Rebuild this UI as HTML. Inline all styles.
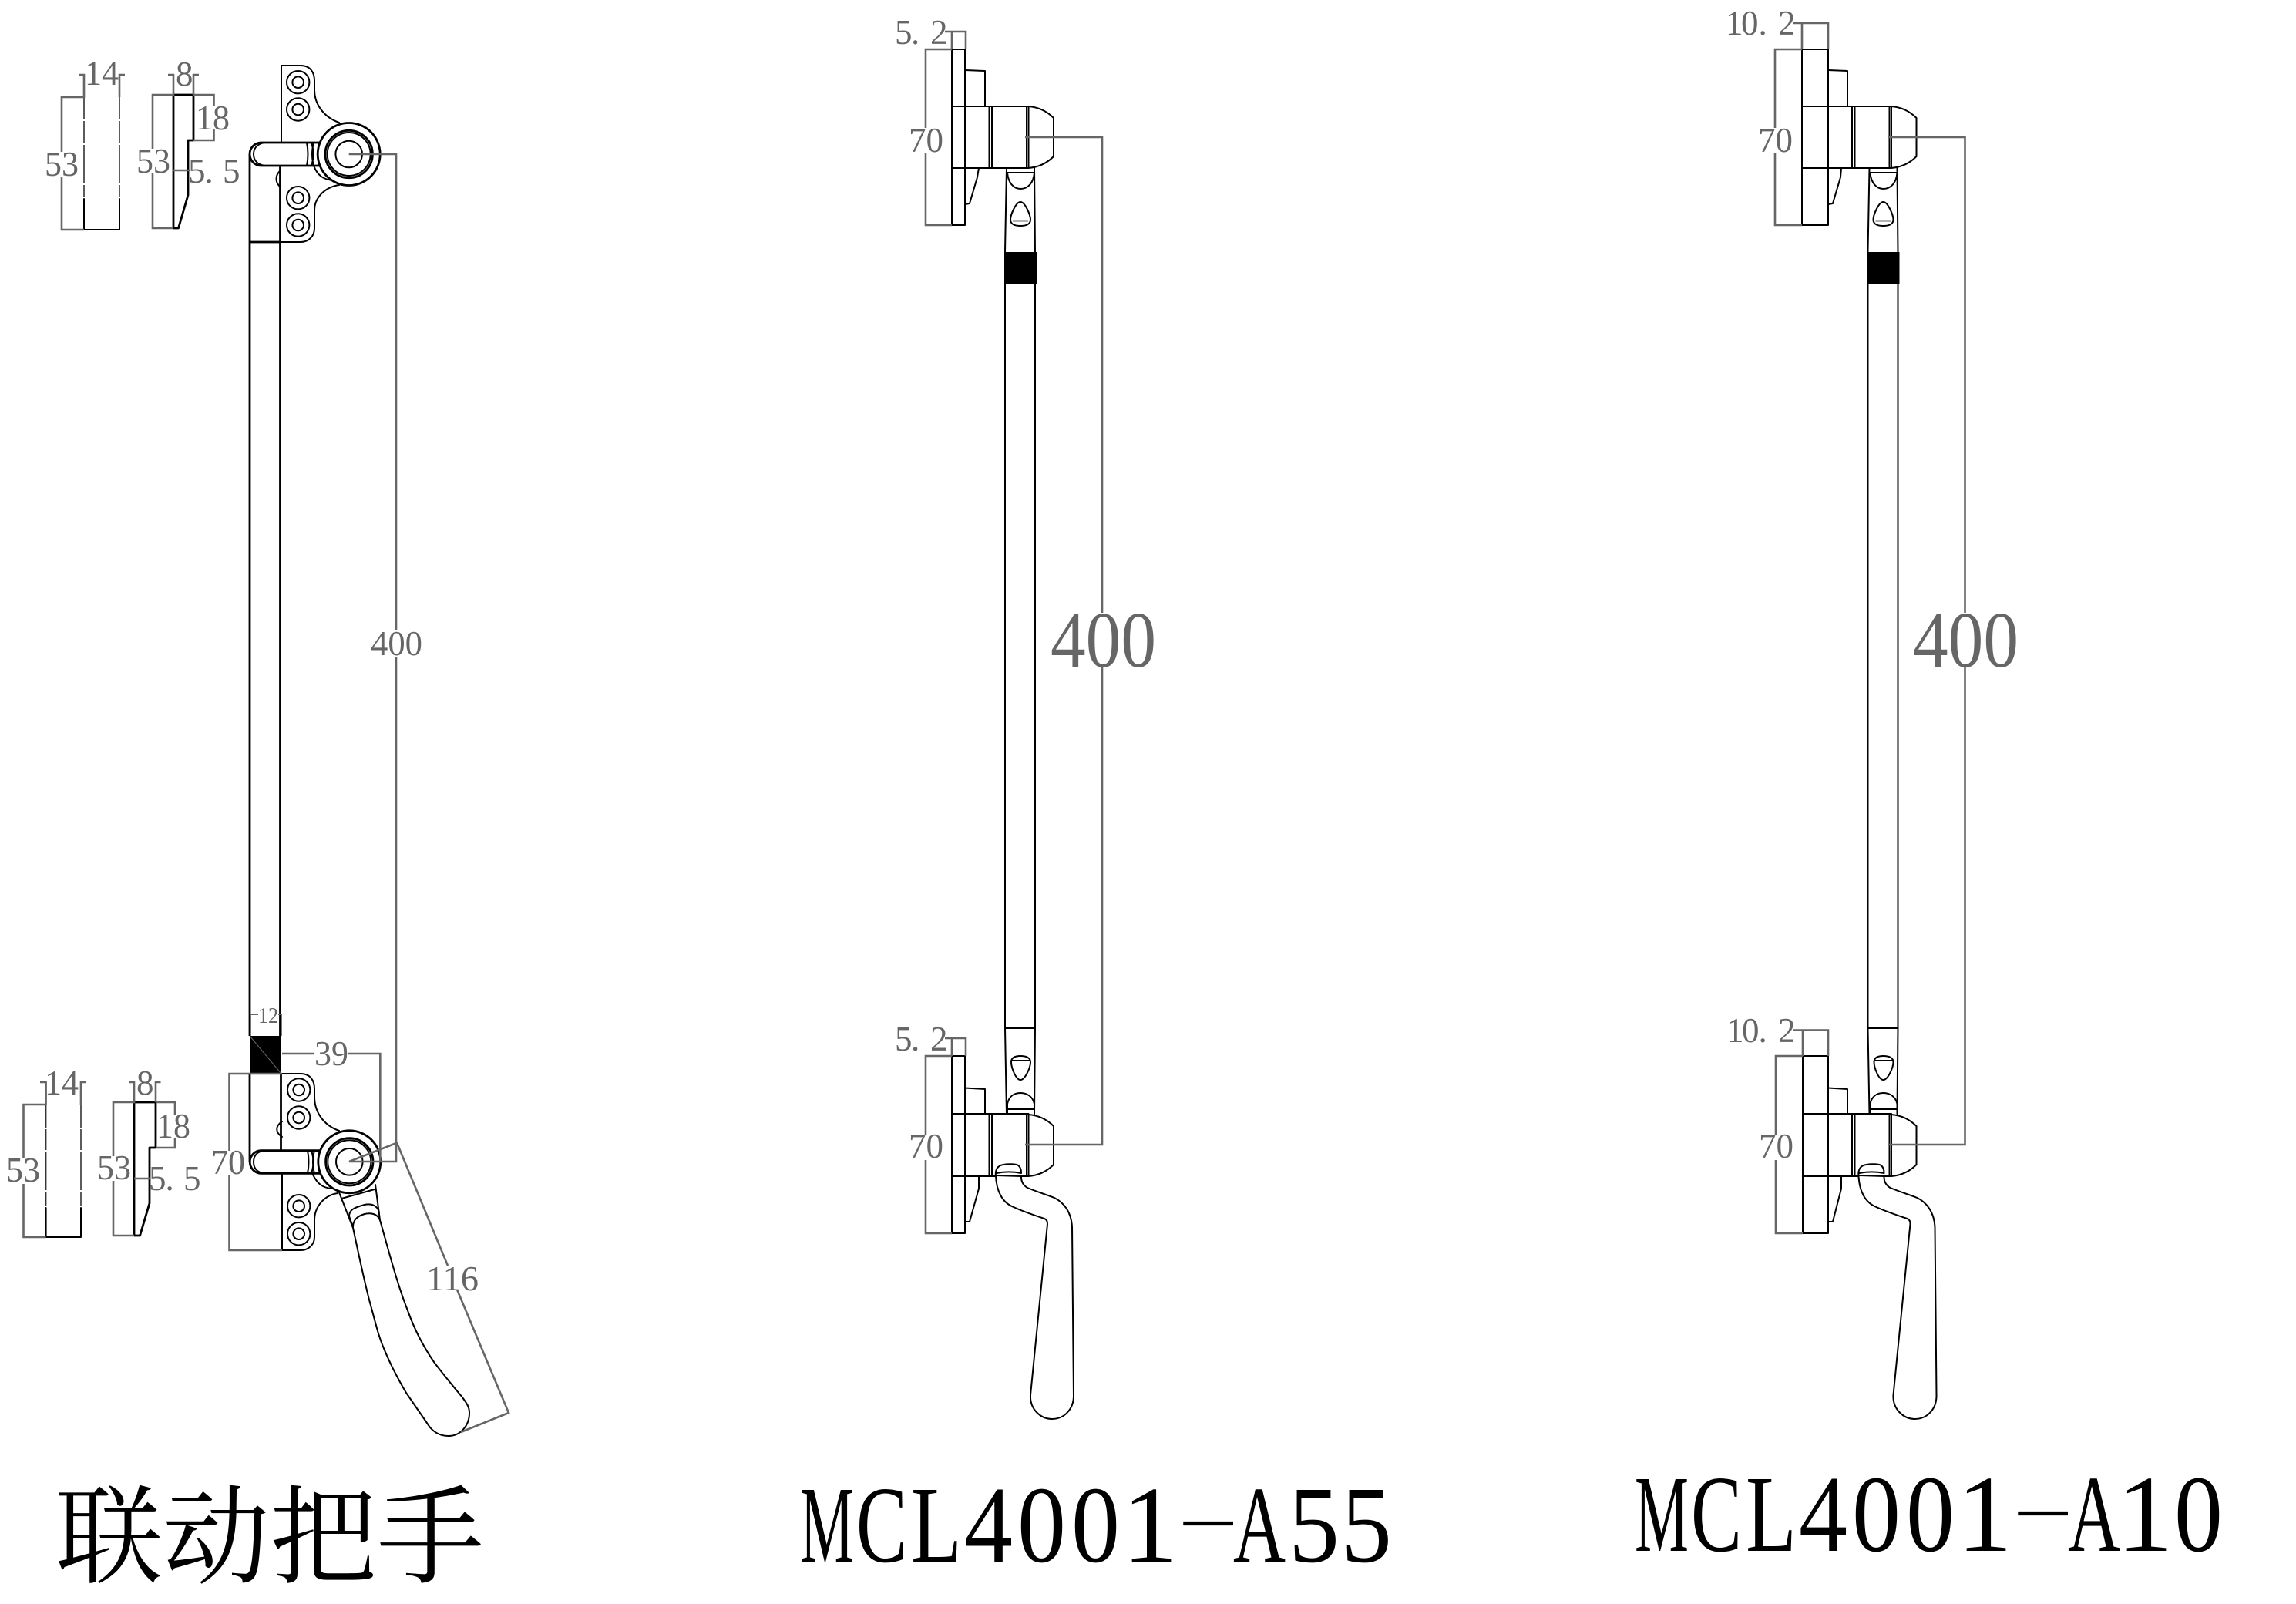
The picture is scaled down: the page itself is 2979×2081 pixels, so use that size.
<!DOCTYPE html>
<html><head><meta charset="utf-8"><style>
html,body{margin:0;padding:0;background:#fff}
svg{display:block}
.k{fill:none;stroke:#000;stroke-width:2;stroke-linejoin:round;stroke-linecap:round}
.kt{fill:none;stroke:#000;stroke-width:2.8;stroke-linejoin:round}
.kd{fill:none;stroke:#333;stroke-width:1.6}
.g{fill:none;stroke:#666;stroke-width:2.6;stroke-linejoin:miter}
.d{font-family:"Liberation Serif",serif;font-size:45px;fill:#666}
.t{font-family:"Liberation Serif",serif;font-size:142px;fill:#000}
.h{font-family:"Liberation Serif",serif;font-size:70px;fill:#000}
.c{font-family:"Liberation Serif","Noto Serif CJK SC",serif;font-size:139px;fill:#000}
</style></head><body>
<svg xmlns="http://www.w3.org/2000/svg" width="2979" height="2081" viewBox="0 0 2979 2081">
<rect width="2979" height="2081" fill="#fff"/>
<defs>
<g id="sc"><circle r="14.7" fill="#fff" class="k"/><circle r="7.3" fill="#fff" class="k"/></g>
<g id="knob">
<circle r="40.5" fill="#fff" class="kt"/>
<circle r="30.7" fill="none" class="kt"/>
<circle r="28" fill="none" class="k"/>
<circle r="17.3" fill="none" class="k"/>
</g>
<g id="rTop">
<path class="k" d="M1283.5 138V218M1287 138V218M1283 138H1334M1283 218H1334M1332 138V218M1334.5 138V218"/>
<path class="k" d="M1334 138C1348 139 1359 145 1367 153V203C1359 211 1348 217 1334 218"/>
<path class="k" d="M1306 218L1304 327M1342 218L1343 327M1307 224H1342M1307 224C1308 237 1315 245 1324 245C1334 245 1341 237 1342 224"/>
<path class="k" d="M1324 262C1318 262 1311 279 1311 285C1311 291 1317 293 1324 293C1331 293 1337 291 1337 285C1337 279 1330 262 1324 262Z"/>
<path fill="none" stroke="#999" stroke-width="1.5" d="M1314 287H1334"/>
<rect x="1303" y="327" width="42" height="42" fill="#000"/>
<path class="k" d="M1304 369V1334M1343 369V1334M1304 1334H1343M1304 1334L1306 1445M1343 1334L1342 1445"/>
<path class="k" d="M1324 1401C1318 1401 1312 1385 1312 1378C1312 1372 1317 1370 1324 1370C1331 1370 1337 1372 1337 1378C1337 1385 1330 1401 1324 1401ZM1313 1376H1335"/>
<path class="k" d="M1307 1445V1432C1309 1423 1315 1418 1324 1418C1333 1418 1340 1423 1342 1432V1445M1307 1439H1342"/>
<path class="k" d="M1283.5 1445V1526M1287 1445V1526M1283 1445H1334M1283 1526H1334M1332 1445V1526M1334.5 1445V1526"/>
<path class="k" d="M1334 1446C1348 1447 1359 1453 1367 1461V1511C1359 1519 1348 1525 1334 1526"/>
<path class="k" style="fill:#fff" d="M1292 1526C1293 1545 1300 1560 1315 1566C1328 1572 1343 1577 1355 1581C1358 1582 1359 1585 1359 1588L1337 1810C1336 1828 1350 1841 1365 1841C1381 1841 1393 1828 1393 1811L1391 1592C1390 1572 1380 1560 1368 1554C1355 1549 1345 1546 1333 1541C1328 1538 1325 1533 1325 1527"/>
<path class="k" d="M1292 1526C1291 1518 1294 1512 1302 1511C1308 1510 1313 1510 1319 1511C1323 1512 1325 1517 1325 1521M1293 1522C1303 1520 1315 1520 1325 1522"/>
<path class="g" d="M1330 178H1430V795M1430 866V1485H1330"/>
</g>
</defs>

<!-- LEFT: small profiles top -->
<path class="kd" d="M109 126V155M109 157V186M109 188V238M109 240V256M155 256V240M155 238V188M155 186V157M155 155V126"/>
<path class="k" d="M109 258V298H155V258"/>
<path class="g" d="M102 97H109V126H80V197M80 229V298H109M155 126V97H162"/>
<path class="kt" d="M225 123V296M225 123H251V182H244V253L231.500 296H225"/>
<path class="g" d="M218 97H225V123H198V193M198 225V296H225M251 123V97H258M251 123H277.500V137M277.500 168V182H251M225 221H246"/>
<text class="d" x="110" y="110" textLength="44" lengthAdjust="spacingAndGlyphs">14</text>
<text class="d" x="228" y="111">8</text>
<text class="d" x="58" y="228" textLength="44" lengthAdjust="spacingAndGlyphs">53</text>
<text class="d" x="177" y="224" textLength="44" lengthAdjust="spacingAndGlyphs">53</text>
<text class="d" x="254" y="168" textLength="44" lengthAdjust="spacingAndGlyphs">18</text>
<text class="d" x="244 265.500 289" y="237">5.5</text>

<!-- LEFT: small profiles bottom -->
<path class="kd" d="M59.600 1433V1463M59.600 1465V1492M59.600 1494V1544M59.600 1546V1565M105 1565V1546M105 1544V1494M105 1492V1465M105 1463V1433"/>
<path class="k" d="M59.600 1567V1605H105V1567"/>
<path class="g" d="M52 1404H59.600V1433H30.500V1503M30.500 1536V1605H59.600M105 1433V1404H112"/>
<path class="kt" d="M174 1430V1603M174 1430H202V1489H194V1561L181.600 1603H174"/>
<path class="g" d="M167 1404H174V1430H147V1500M147 1532V1603H174M202 1430V1404H208.500M202 1430H227V1446M227 1477V1489H202M174 1529H195"/>
<text class="d" x="58" y="1420" textLength="44" lengthAdjust="spacingAndGlyphs">14</text>
<text class="d" x="177" y="1420">8</text>
<text class="d" x="8" y="1533" textLength="44" lengthAdjust="spacingAndGlyphs">53</text>
<text class="d" x="126" y="1530" textLength="44" lengthAdjust="spacingAndGlyphs">53</text>
<text class="d" x="203" y="1476" textLength="44" lengthAdjust="spacingAndGlyphs">18</text>
<text class="d" x="193 214.500 238" y="1544">5.5</text>

<!-- LEFT: main bar, top -->
<path class="k" d="M365 185V85H390C402 85 408 93 408 105V117C408 135 420 152 440 159"/>
<path class="k" d="M440 240C420 243 408 258 408 272V296C408 307 400 314 390 314H365"/>
<path class="k" d="M407 215C412 228 420 233 432 234"/>
<path class="k" d="M363 222C357 228 357 236 363 242"/>
<path class="kt" d="M324 200V1344M363.500 215V1344M324 314H365"/>
<path class="kt" d="M415 185H339A15 15 0 0 0 339 215H415" style="fill:#fff"/>
<path class="k" d="M343 185C333 187 329 193 329 200C329 207 333 213 343 215M398 185Q401 200 398 215M404 185Q409 200 404 215M407 185Q403 200 407 215"/>
<use href="#sc" x="386.700" y="106.700"/><use href="#sc" x="386.700" y="142"/><use href="#sc" x="386.700" y="256.700"/><use href="#sc" x="386.700" y="292"/>
<use href="#knob" x="452.700" y="200"/>

<!-- LEFT: main bar, bottom -->
<rect x="324" y="1344" width="41" height="49" fill="#000"/>
<path d="M324 1344L365 1393" stroke="#666" stroke-width="1" fill="none"/>
<path class="kt" d="M324 1393V1507M364.500 1393V1493"/>
<path class="k" d="M366 1522V1622M366 1393H390C402 1393 408 1401 408 1413V1423C408 1443 420 1460 440 1467"/>
<path class="k" d="M438 1548C420 1551 408 1566 408 1583V1605C408 1615 400 1622 390 1622H366"/>
<path class="k" d="M405 1522C411 1535 418 1541 430 1542"/>
<path class="k" d="M366 1455C357 1461 357 1469 366 1475"/>
<path class="k" style="fill:#fff" d="M440 1547L458 1593C465 1625 472 1660 480 1690C487 1715 490 1730 497 1747C507 1772 517 1790 527 1807L558 1852C565 1860 573 1863 582 1863C597 1863 609 1850 609 1833C609 1825 605 1820 600 1813C585 1795 575 1783 563 1767C548 1745 538 1725 530 1703C515 1665 505 1625 493 1583L487 1537"/>
<path class="k" d="M443 1555L486 1543M453 1578C453 1570 458 1567 473 1563C482 1561 490 1564 492 1573M458 1592C458 1583 463 1578 473 1575C482 1573 490 1575 493 1583M453 1578L458 1592"/>
<path class="kt" style="fill:#fff" d="M415 1492.700H339A14.800 14.800 0 0 0 339 1522.300H415"/>
<path class="k" d="M343 1492.700C333 1494 329 1500 329 1507.500C329 1515 333 1521 343 1522.300M399 1492.700Q402 1507.500 399 1522.300M404 1492.700Q409 1507.500 404 1522.300M408 1492.700Q404 1507.500 408 1522.300"/>
<use href="#sc" x="387.700" y="1414"/><use href="#sc" x="387.700" y="1450"/><use href="#sc" x="387.700" y="1564.700"/><use href="#sc" x="387.700" y="1600.700"/>
<use href="#knob" x="453.300" y="1507.300"/>

<!-- LEFT: dims -->
<path class="g" d="M452.700 200H514V817M514 853V1507H453M453 1507L515 1482.700L581 1642M593 1673L660 1833L598 1858"/>
<path class="g" d="M366 1367H408M451 1367H493.300V1507"/>
<path class="g" d="M366 1393H297.500V1493M297.500 1524V1622H366"/>
<path class="g" style="stroke-width:2" d="M325 1316H335M361 1316H366"/>
<path class="g" style="stroke-width:1.8" d="M325 1316V1344M365 1316V1344"/>
<text class="d" x="481" y="850" textLength="67" lengthAdjust="spacingAndGlyphs">400</text>
<text class="d" x="408" y="1382" textLength="44" lengthAdjust="spacingAndGlyphs">39</text>
<text class="d" x="274" y="1523" textLength="44" lengthAdjust="spacingAndGlyphs">70</text>
<text class="d" x="553" y="1674" textLength="68" lengthAdjust="spacingAndGlyphs">116</text>
<text class="d" x="335" y="1327" style="font-size:28px" textLength="26" lengthAdjust="spacingAndGlyphs">12</text>

<!-- MIDDLE -->
<use href="#rTop"/>
<path class="k" d="M1235 64V292H1252V64ZM1235 138H1283M1235 218H1283"/>
<path class="k" d="M1252 91L1278 92V138M1252 218H1270L1268 230L1258 264L1252 265"/>
<path class="k" d="M1235 1370V1600H1252V1370ZM1235 1445H1283M1235 1526H1283"/>
<path class="k" d="M1252 1411.500L1278 1413V1445M1252 1526H1270V1542L1258 1585H1252"/>
<path class="g" d="M1226 41H1253V64M1235 41V64M1235 64H1201V166M1201 198V292H1235"/>
<path class="g" d="M1226 1347H1253V1370M1235 1347V1370M1235 1370H1201V1472M1201 1505V1600H1235"/>
<text class="d" x="1161 1182 1207" y="57">5.2</text>
<text class="d" x="1161 1182 1207" y="1363">5.2</text>
<text class="d" x="1179" y="197">70</text>
<text class="d" x="1179" y="1502">70</text>
<text class="d" x="1363" y="865" style="font-size:104px" textLength="137" lengthAdjust="spacingAndGlyphs">400</text>

<!-- RIGHT -->
<use href="#rTop" x="1119.500"/>
<path class="k" d="M2338 64V292H2372V64ZM2338 138H2403M2338 218H2403"/>
<path class="k" d="M2372 91L2397 92V138M2372 218H2389L2388 230L2378 264L2372 265"/>
<path class="k" d="M2339 1370V1600H2372V1370ZM2339 1445H2403M2339 1526H2403"/>
<path class="k" d="M2372 1411.500L2397 1413V1445M2372 1526H2389V1542L2378 1585H2372"/>
<path class="g" d="M2327 30H2372V64M2338 30V64M2338 64H2303V166M2303 198V292H2338"/>
<path class="g" d="M2327 1336.500H2372V1370M2339 1336.500V1370M2339 1370H2304V1472M2304 1505V1600H2339"/>
<text class="d" x="2239 2259 2281.500 2307" y="45">10.2</text>
<text class="d" x="2240 2260 2281.500 2307" y="1352">10.2</text>
<text class="d" x="2281" y="197">70</text>
<text class="d" x="2282" y="1502">70</text>
<text class="d" x="2482" y="865" style="font-size:104px" textLength="137" lengthAdjust="spacingAndGlyphs">400</text>

<!-- TITLES -->
<text class="c" x="72" y="2043">联动把手</text>

<text class="t" x="1038" y="2026" textLength="70" lengthAdjust="spacingAndGlyphs">M</text>
<text class="t" x="1111" y="2026" textLength="66" lengthAdjust="spacingAndGlyphs">C</text>
<text class="t" x="1182" y="2026" textLength="66" lengthAdjust="spacingAndGlyphs">L</text>
<text class="t" x="1251" y="2026" textLength="63" lengthAdjust="spacingAndGlyphs">4</text>
<text class="t" x="1320" y="2026" textLength="63" lengthAdjust="spacingAndGlyphs">0</text>
<text class="t" x="1390" y="2026" textLength="63" lengthAdjust="spacingAndGlyphs">0</text>
<text class="t" x="1456" y="2026" textLength="72" lengthAdjust="spacingAndGlyphs">1</text>
<text class="h" x="1526" y="1993" textLength="83" lengthAdjust="spacingAndGlyphs">-</text>
<text class="t" x="1600" y="2026" textLength="68" lengthAdjust="spacingAndGlyphs">A</text>
<text class="t" x="1672" y="2026" textLength="66" lengthAdjust="spacingAndGlyphs">5</text>
<text class="t" x="1740" y="2026" textLength="66" lengthAdjust="spacingAndGlyphs">5</text>

<text class="t" x="2121" y="2012" textLength="70" lengthAdjust="spacingAndGlyphs">M</text>
<text class="t" x="2194" y="2012" textLength="66" lengthAdjust="spacingAndGlyphs">C</text>
<text class="t" x="2265" y="2012" textLength="66" lengthAdjust="spacingAndGlyphs">L</text>
<text class="t" x="2334" y="2012" textLength="63" lengthAdjust="spacingAndGlyphs">4</text>
<text class="t" x="2403" y="2012" textLength="63" lengthAdjust="spacingAndGlyphs">0</text>
<text class="t" x="2473" y="2012" textLength="63" lengthAdjust="spacingAndGlyphs">0</text>
<text class="t" x="2539" y="2012" textLength="72" lengthAdjust="spacingAndGlyphs">1</text>
<text class="h" x="2609" y="1980" textLength="83" lengthAdjust="spacingAndGlyphs">-</text>
<text class="t" x="2683" y="2012" textLength="68" lengthAdjust="spacingAndGlyphs">A</text>
<text class="t" x="2747" y="2012" textLength="72" lengthAdjust="spacingAndGlyphs">1</text>
<text class="t" x="2821" y="2012" textLength="63" lengthAdjust="spacingAndGlyphs">0</text>
</svg>
</body></html>
